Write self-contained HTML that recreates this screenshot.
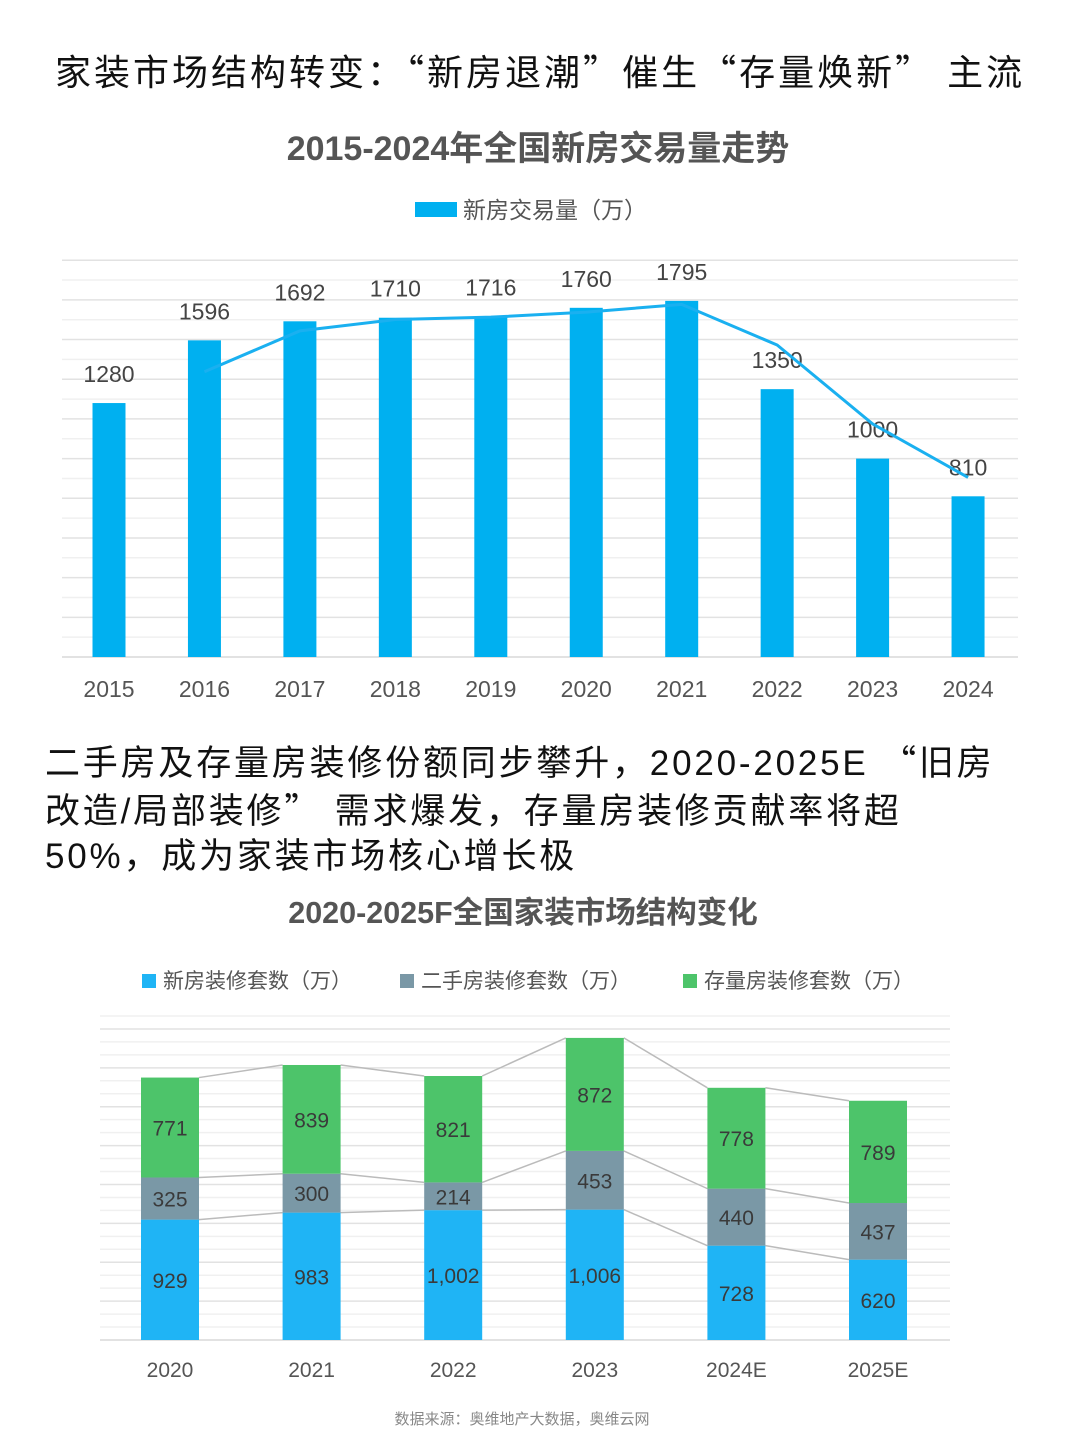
<!DOCTYPE html>
<html><head><meta charset="utf-8">
<style>
body{margin:0;background:#fff;width:1080px;height:1443px;overflow:hidden;font-family:"Liberation Sans","Noto Sans CJK SC",sans-serif}
svg{position:absolute;left:0;top:0}
.t{position:absolute;color:#111;font-family:"Liberation Sans","Noto Sans CJK SC",sans-serif}
.q{font-family:"Noto Sans CJK SC",sans-serif}
</style></head><body>
<div class="t" style="left:55px;top:44px;font-size:36px;white-space:nowrap;letter-spacing:3px">家装市场结构转变：<span class="q">“</span>新房退潮<span class="q">”</span>催生<span class="q">“</span>存量焕新<span class="q">”</span> 主流</div>
<div class="t" style="left:45px;top:738px;font-size:35px;line-height:45px;width:1040px;white-space:nowrap;letter-spacing:2.8px">二手房及存量房装修份额同步攀升，2020-2025E <span class="q">“</span>旧房<br>改造/局部装修<span class="q">”</span> 需求爆发，存量房装修贡献率将超<br>50%，成为家装市场核心增长极</div>
<svg id="s" width="1080" height="1443" xmlns="http://www.w3.org/2000/svg" font-family="Liberation Sans, Noto Sans CJK SC, sans-serif">
<text x="538" y="160" text-anchor="middle" font-size="34" font-weight="bold" fill="#555">2015-2024年全国新房交易量走势</text>
<rect x="415" y="202" width="42" height="15" fill="#00b0f0"/>
<text x="463" y="218" font-size="23" fill="#555">新房交易量（万）</text>
<g id="c1"></g>
<text x="523" y="923" text-anchor="middle" font-size="30.5" font-weight="bold" fill="#555">2020-2025F全国家装市场结构变化</text>
<g id="leg2"></g>
<g id="c2"></g>
<text x="522" y="1424" text-anchor="middle" font-size="15" fill="#888">数据来源：奥维地产大数据，奥维云网</text>
</svg>
<script>
const years1=["2015","2016","2017","2018","2019","2020","2021","2022","2023","2024"];
const vol1=[1280,1596,1692,1710,1716,1760,1795,1350,1000,810];
const cats2=["2020","2021","2022","2023","2024E","2025E"];
const newH=[929,983,1002,1006,728,620];
const secH=[325,300,214,453,440,437];
const stockH=[771,839,821,872,778,789];
const names2=["新房装修套数（万）","二手房装修套数（万）","存量房装修套数（万）"];
const NS="http://www.w3.org/2000/svg";
function mk(p,t,a,txt){const e=document.createElementNS(NS,t);for(const k in a)e.setAttribute(k,a[k]);if(txt!==undefined)e.textContent=txt;p.appendChild(e);return e;}
// chart 1
const c1=document.getElementById('c1');
const b1=657,k1=0.1984,x1=i=>109+i*95.45;
const y1=v=>b1-v*k1;
for(let g=0;g<=20;g++){const l=mk(c1,'line',{x1:62,x2:1018,y1:y1(g*100),y2:y1(g*100),stroke:g%2?'#f0f0f0':'#e2e2e2','stroke-width':g==0?2:1.5});

}
vol1.forEach((v,i)=>{const r=mk(c1,'rect',{x:x1(i)-16.5,y:y1(v),width:33,height:v*k1,fill:'#00b0f0'});


const t=mk(c1,'text',{x:x1(i),y:y1(v)-21,'text-anchor':'middle','font-size':23,fill:'#444'},String(v));


const a=mk(c1,'text',{x:x1(i),y:697,'text-anchor':'middle','font-size':23,fill:'#555'},years1[i]);

});
// 2-period moving average trend line
let pts=vol1.slice(1).map((v,j)=>x1(j+1)+','+y1((v+vol1[j])/2)).join(' ');
const pl=mk(c1,'polyline',{points:pts,fill:'none',stroke:'#1ab0f0','stroke-width':3});


// chart 2
const c2=document.getElementById('c2');
const b2=1340,k2=0.1296,x2=i=>170+i*141.6,y2=v=>b2-v*k2;
for(let g=0;g<=25;g++){const l=mk(c2,'line',{x1:100,x2:950,y1:y2(g*100),y2:y2(g*100),stroke:g%3==0?'#e2e2e2':'#f0f0f0','stroke-width':g==0?2:1.5});

}
const cols=['#1fb4f5','#7a98a6','#4dc46a'];
const series=[newH,secH,stockH];
const cum=i=>[newH[i],newH[i]+secH[i],newH[i]+secH[i]+stockH[i]];
for(let i=0;i<cats2.length-1;i++){const a=cum(i),b=cum(i+1);for(let s=0;s<3;s++){const l=mk(c2,'line',{x1:x2(i)+29,y1:y2(a[s]),x2:x2(i+1)-29,y2:y2(b[s]),stroke:'#bbb','stroke-width':1.5});

}}
cats2.forEach((c,i)=>{let base=0;series.forEach((arr,s)=>{const v=arr[i];
const r=mk(c2,'rect',{x:x2(i)-29,y:y2(base+v),width:58,height:v*k2,fill:cols[s]});


const t=mk(c2,'text',{x:x2(i),y:y2(base+v/2)+8,'text-anchor':'middle','font-size':21,fill:'#3a3a3a'},v.toLocaleString('en-US'));


base+=v;});
const a=mk(c2,'text',{x:x2(i),y:1377,'text-anchor':'middle','font-size':21,fill:'#555'},c);

});
const leg=document.getElementById('leg2');const lx=[142,400,683];
names2.forEach((n,s)=>{const r=mk(leg,'rect',{x:lx[s],y:974,width:14,height:14,fill:cols[s]});


const t=mk(leg,'text',{x:lx[s]+21,y:988,'font-size':21,fill:'#555'},n);

});
</script>
</body></html>
